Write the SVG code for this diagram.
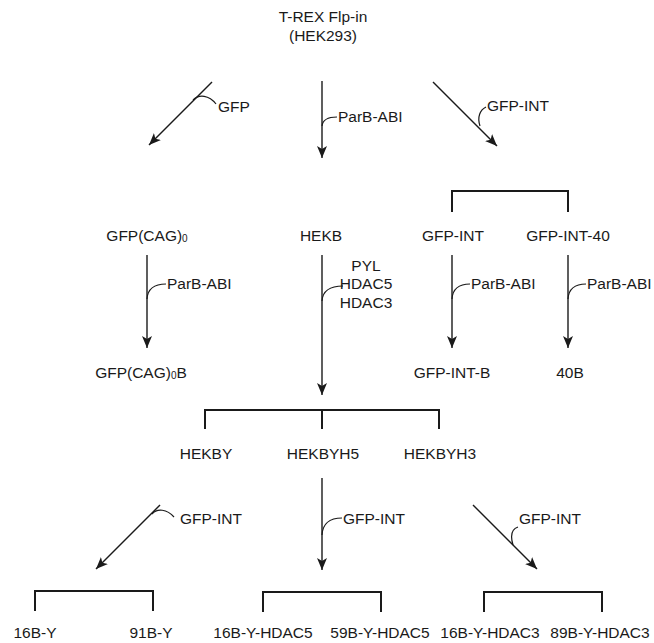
<svg xmlns="http://www.w3.org/2000/svg" width="654" height="643" viewBox="0 0 654 643">
<style>
text{font-family:"Liberation Sans",Arial,sans-serif;font-size:15.5px;fill:#1a1a1a}
.c{text-anchor:middle}
.sub{font-size:10px}
.arr{fill:none;stroke:#1a1a1a;stroke-width:1.4;marker-end:url(#ah)}
.hook{fill:none;stroke:#1a1a1a;stroke-width:1.2}
.br{fill:none;stroke:#1a1a1a;stroke-width:2}
</style>
<defs>
<marker id="ah" markerUnits="userSpaceOnUse" markerWidth="14" markerHeight="12" refX="12" refY="5" orient="auto">
<path d="M0,0 L12,5 L0,10 L3,5 z" fill="#1a1a1a"/>
</marker>
</defs>
<rect width="654" height="643" fill="#fff"/>
<g id="connectors">
<path class="arr" d="M212,82 L149,145"/>
<path class="hook" d="M193,100 C199,94 209,95 216,104"/>
<path class="arr" d="M322,81 V158"/>
<path class="hook" d="M322,126 Q323,117 337,117"/>
<path class="arr" d="M433,82 L497,146"/>
<path class="hook" d="M480,126 C477,117 480,110 486,107"/>
<path class="br" d="M452,212 V191 H568 V212"/>
<path class="arr" d="M147,255 V348"/>
<path class="hook" d="M147,299 Q148,284 166,284"/>
<path class="arr" d="M322,255 V395"/>
<path class="hook" d="M322,301 Q323,286 343,286"/>
<path class="arr" d="M452,255 V348"/>
<path class="hook" d="M452,299 Q453,284 470,284"/>
<path class="arr" d="M568,255 V348"/>
<path class="hook" d="M568,299 Q569,284 586,284"/>
<path class="br" d="M205,429 V410 H439 V429 M322,410 V429"/>
<path class="arr" d="M160,505 L96,569"/>
<path class="hook" d="M152,514 C157,508 167,509 174,517"/>
<path class="arr" d="M322,478 V570"/>
<path class="hook" d="M322,535 Q323,518 342,518"/>
<path class="arr" d="M473,505 L537,569"/>
<path class="hook" d="M513,545 C510,535 512,529 518,527"/>
<path class="br" d="M35,611 V591 H153 V611"/>
<path class="br" d="M263,612 V592 H381 V612"/>
<path class="br" d="M484,612 V592 H602 V612"/>
</g>
<g id="labels">
<text x="218" y="112">GFP</text>
<text x="338" y="122">ParB-ABI</text>
<text x="487" y="111">GFP-INT</text>
<text x="167" y="289">ParB-ABI</text>
<text class="c" x="366" y="270.5">PYL</text>
<text class="c" x="366" y="289">HDAC5</text>
<text class="c" x="366" y="307.5">HDAC3</text>
<text x="471" y="289">ParB-ABI</text>
<text x="587" y="289">ParB-ABI</text>
<text x="180" y="523.5">GFP-INT</text>
<text x="343" y="523.5">GFP-INT</text>
<text x="519" y="523.5">GFP-INT</text>
</g>
<g id="n-root"><text class="c" x="323" y="22">T-REX Flp-in</text><text class="c" x="323" y="41">(HEK293)</text></g>
<g id="n-gfpcag0"><text class="c" x="147" y="240.5">GFP(CAG)<tspan class="sub" dy="1">0</tspan></text></g>
<g id="n-hekb"><text class="c" x="321" y="240.5">HEKB</text></g>
<g id="n-gfpint"><text class="c" x="453" y="240.5">GFP-INT</text></g>
<g id="n-gfpint40"><text class="c" x="568" y="240.5">GFP-INT-40</text></g>
<g id="n-gfpcag0b"><text class="c" x="141" y="377.5">GFP(CAG)<tspan class="sub" dy="1">0</tspan><tspan dy="-1">B</tspan></text></g>
<g id="n-gfpintb"><text class="c" x="452" y="377.5">GFP-INT-B</text></g>
<g id="n-40b"><text class="c" x="570" y="377.5">40B</text></g>
<g id="n-hekby"><text class="c" x="206" y="458.5">HEKBY</text></g>
<g id="n-hekbyh5"><text class="c" x="323" y="458.5">HEKBYH5</text></g>
<g id="n-hekbyh3"><text class="c" x="440" y="458.5">HEKBYH3</text></g>
<g id="n-16by"><text class="c" x="35" y="638">16B-Y</text></g>
<g id="n-91by"><text class="c" x="151" y="638">91B-Y</text></g>
<g id="n-16byh5"><text class="c" x="263" y="638">16B-Y-HDAC5</text></g>
<g id="n-59byh5"><text class="c" x="380" y="638">59B-Y-HDAC5</text></g>
<g id="n-16byh3"><text class="c" x="490" y="638">16B-Y-HDAC3</text></g>
<g id="n-89byh3"><text class="c" x="600" y="638">89B-Y-HDAC3</text></g>
</svg>
